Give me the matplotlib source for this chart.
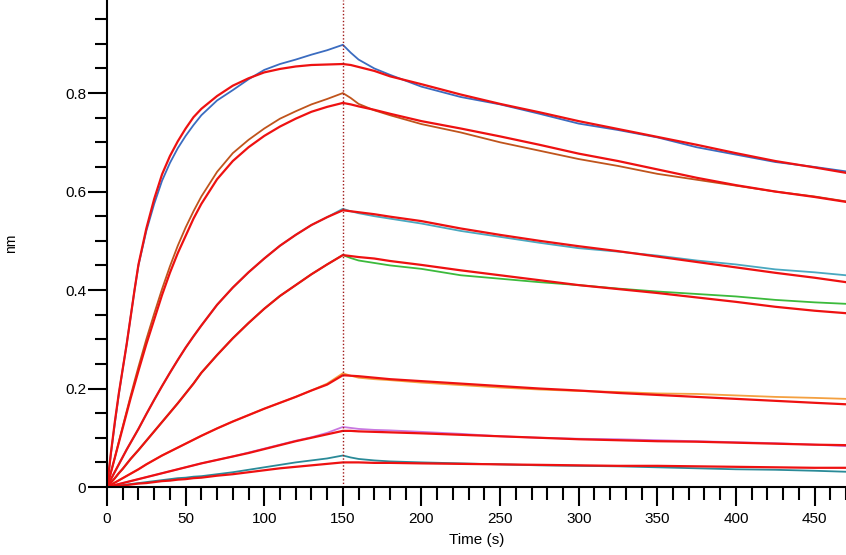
import numpy as np
import matplotlib
matplotlib.use("Agg")
import matplotlib.pyplot as plt
from matplotlib.ticker import MultipleLocator

plt.rcParams['font.family'] = ['Liberation Sans', 'DejaVu Sans']

# time grids (s)
t_assoc = [0, 2.5, 5, 7.5, 10, 12.5, 15, 17.5, 20, 25, 30, 35, 40, 45, 50, 55, 60,
           70, 80, 90, 100, 110, 120, 130, 140, 150]
t_dissoc = [150, 155, 160, 170, 180, 200, 225, 250, 275, 300, 325, 350, 375, 400, 425, 450, 470]

# measured curves (nm): association, then dissociation
blue_a = [0, 0.068, 0.13, 0.188, 0.24, 0.29, 0.345, 0.4, 0.45, 0.52, 0.575, 0.622, 0.658,
          0.688, 0.713, 0.735, 0.755, 0.785, 0.806, 0.828, 0.847, 0.859, 0.868, 0.878, 0.887, 0.898]
blue_d = [0.898, 0.882, 0.868, 0.85, 0.837, 0.813, 0.792, 0.777, 0.758, 0.738, 0.725, 0.71,
          0.69, 0.675, 0.66, 0.65, 0.641]
brown_a = [0, 0.03, 0.06, 0.092, 0.123, 0.154, 0.185, 0.215, 0.244, 0.30, 0.352, 0.402, 0.448,
           0.49, 0.527, 0.56, 0.59, 0.64, 0.678, 0.705, 0.728, 0.748, 0.763, 0.777, 0.788, 0.80]
brown_d = [0.80, 0.79, 0.778, 0.765, 0.755, 0.737, 0.72, 0.70, 0.683, 0.666, 0.652, 0.636,
           0.624, 0.612, 0.60, 0.59, 0.58]
cyan_a = [0, 0.016, 0.031, 0.046, 0.061, 0.076, 0.09, 0.104, 0.118, 0.148, 0.177, 0.205, 0.232,
          0.258, 0.283, 0.306, 0.328, 0.37, 0.405, 0.436, 0.464, 0.49, 0.512, 0.532, 0.548, 0.565]
cyan_d = [0.565, 0.56, 0.556, 0.55, 0.545, 0.535, 0.52, 0.508, 0.496, 0.485, 0.478, 0.47,
          0.46, 0.452, 0.442, 0.436, 0.430]
green_a = [0, 0.009, 0.018, 0.028, 0.037, 0.047, 0.057, 0.066, 0.075, 0.094, 0.113, 0.132, 0.151,
           0.17, 0.19, 0.21, 0.232, 0.268, 0.302, 0.333, 0.362, 0.388, 0.41, 0.432, 0.452, 0.471]
green_d = [0.471, 0.465, 0.46, 0.455, 0.45, 0.443, 0.43, 0.423, 0.416, 0.41, 0.403, 0.397,
           0.392, 0.387, 0.38, 0.375, 0.372]
orange_a = [0, 0.0045, 0.009, 0.0135, 0.018, 0.0225, 0.027, 0.0315, 0.036, 0.046, 0.055, 0.064,
            0.072, 0.08, 0.088, 0.096, 0.104, 0.119, 0.133, 0.146, 0.159, 0.171, 0.183, 0.196, 0.21, 0.231]
orange_d = [0.231, 0.226, 0.222, 0.219, 0.217, 0.212, 0.207, 0.202, 0.198, 0.195, 0.193, 0.19,
            0.189, 0.186, 0.183, 0.181, 0.179]
violet_a = [0, 0.002, 0.004, 0.006, 0.008, 0.01, 0.012, 0.014, 0.016, 0.02, 0.024, 0.028, 0.032,
            0.036, 0.04, 0.044, 0.048, 0.055, 0.062, 0.07, 0.078, 0.086, 0.094, 0.101, 0.11, 0.122]
violet_d = [0.122, 0.12, 0.118, 0.116, 0.115, 0.112, 0.108, 0.103, 0.1, 0.098, 0.097, 0.095,
            0.093, 0.091, 0.089, 0.086, 0.083]
teal_a = [0, 0.001, 0.002, 0.003, 0.004, 0.005, 0.006, 0.007, 0.008, 0.01, 0.012, 0.014, 0.016,
          0.018, 0.019, 0.021, 0.022, 0.026, 0.03, 0.035, 0.04, 0.045, 0.05, 0.054, 0.058, 0.064]
teal_d = [0.064, 0.06, 0.057, 0.054, 0.052, 0.05, 0.048, 0.046, 0.044, 0.043, 0.042, 0.04,
          0.038, 0.036, 0.035, 0.033, 0.031]

# fitted curves
fit_blue_a = [0, 0.07, 0.133, 0.19, 0.24, 0.29, 0.345, 0.4, 0.452, 0.525, 0.585, 0.635, 0.672,
              0.702, 0.728, 0.751, 0.768, 0.794, 0.815, 0.83, 0.842, 0.849, 0.854, 0.857, 0.858, 0.859]
fit_blue_d = [0.859, 0.857, 0.853, 0.845, 0.834, 0.818, 0.797, 0.778, 0.761, 0.743, 0.727, 0.711,
              0.695, 0.678, 0.662, 0.649, 0.638]
fit_brown_a = [0, 0.03, 0.06, 0.09, 0.12, 0.15, 0.18, 0.208, 0.236, 0.29, 0.34, 0.39, 0.435,
               0.475, 0.51, 0.545, 0.575, 0.625, 0.662, 0.69, 0.713, 0.732, 0.748, 0.762, 0.772, 0.78]
fit_brown_d = [0.78, 0.777, 0.773, 0.766, 0.758, 0.743, 0.728, 0.712, 0.695, 0.677, 0.662, 0.645,
               0.628, 0.613, 0.60, 0.589, 0.579]
fit_cyan_a = [0, 0.016, 0.031, 0.046, 0.061, 0.076, 0.09, 0.104, 0.118, 0.148, 0.177, 0.205, 0.232,
              0.258, 0.283, 0.306, 0.328, 0.37, 0.405, 0.436, 0.464, 0.49, 0.512, 0.532, 0.548, 0.562]
fit_cyan_d = [0.562, 0.56, 0.558, 0.554, 0.549, 0.54, 0.525, 0.512, 0.5, 0.489, 0.479, 0.468,
              0.457, 0.446, 0.435, 0.425, 0.416]
fit_green_a = [0, 0.009, 0.018, 0.028, 0.037, 0.047, 0.057, 0.066, 0.075, 0.094, 0.113, 0.132, 0.151,
               0.17, 0.19, 0.21, 0.232, 0.268, 0.302, 0.333, 0.362, 0.388, 0.41, 0.432, 0.452, 0.471]
fit_green_d = [0.471, 0.469, 0.467, 0.464, 0.459, 0.451, 0.44, 0.43, 0.42, 0.41, 0.402, 0.394,
               0.385, 0.376, 0.366, 0.358, 0.353]
fit_orange_a = [0, 0.0045, 0.009, 0.0135, 0.018, 0.0225, 0.027, 0.0315, 0.036, 0.046, 0.055, 0.064,
                0.072, 0.08, 0.088, 0.096, 0.104, 0.119, 0.133, 0.146, 0.159, 0.171, 0.183, 0.196, 0.208, 0.227]
fit_orange_d = [0.227, 0.226, 0.225, 0.222, 0.219, 0.215, 0.21, 0.205, 0.2, 0.196, 0.191, 0.187,
                0.183, 0.179, 0.175, 0.171, 0.168]
fit_violet_a = [0, 0.002, 0.004, 0.006, 0.008, 0.01, 0.012, 0.014, 0.016, 0.02, 0.024, 0.028, 0.032,
                0.036, 0.04, 0.044, 0.048, 0.055, 0.062, 0.069, 0.077, 0.085, 0.093, 0.1, 0.107, 0.114]
fit_violet_d = [0.114, 0.114, 0.113, 0.112, 0.111, 0.109, 0.106, 0.103, 0.1, 0.097, 0.095, 0.093,
                0.092, 0.09, 0.088, 0.086, 0.085]
fit_teal_a = [0, 0.001, 0.002, 0.0025, 0.003, 0.004, 0.005, 0.006, 0.007, 0.008, 0.01, 0.012, 0.013,
              0.015, 0.016, 0.018, 0.019, 0.023, 0.026, 0.03, 0.034, 0.038, 0.041, 0.044, 0.047, 0.05]
fit_teal_d = [0.05, 0.05, 0.05, 0.049, 0.049, 0.048, 0.047, 0.046, 0.045, 0.044, 0.043, 0.043,
              0.042, 0.041, 0.04, 0.039, 0.039]

curves = [
    (blue_a, blue_d, fit_blue_a, fit_blue_d, "#3b6cc0"),
    (brown_a, brown_d, fit_brown_a, fit_brown_d, "#c0541c"),
    (cyan_a, cyan_d, fit_cyan_a, fit_cyan_d, "#4aa8c0"),
    (green_a, green_d, fit_green_a, fit_green_d, "#3cba3c"),
    (orange_a, orange_d, fit_orange_a, fit_orange_d, "#f4a040"),
    (violet_a, violet_d, fit_violet_a, fit_violet_d, "#c878e0"),
    (teal_a, teal_d, fit_teal_a, fit_teal_d, "#2a8a98"),
]

fig = plt.figure(figsize=(8.46, 5.55), dpi=100)
ax = fig.add_axes([0.1265, 0.1225, 0.8735, 0.8775])

t_all = t_assoc + t_dissoc[1:]
for da, dd, fa, fd, col in curves:
    ax.plot(t_all, da + dd[1:], color=col, lw=1.3)
for da, dd, fa, fd, col in curves:
    ax.plot(t_all, fa + fd[1:], color="#ee1111", lw=1.6)

ax.axvline(150, color="#a01818", lw=1, ls=(0, (1, 1.5)))

ax.set_xlim(0, 470)
ax.set_ylim(0, 0.989)
ax.xaxis.set_major_locator(MultipleLocator(50))
ax.xaxis.set_minor_locator(MultipleLocator(10))
ax.yaxis.set_major_locator(MultipleLocator(0.2))
ax.yaxis.set_minor_locator(MultipleLocator(0.05))
ax.set_yticklabels(["0" if v == 0 else "%.1f" % v for v in ax.get_yticks()])

for s in ["top", "right"]:
    ax.spines[s].set_visible(False)
for s in ["left", "bottom"]:
    ax.spines[s].set_linewidth(1.5)
ax.tick_params(which="major", length=14, width=1.5, labelsize=11)
ax.tick_params(which="minor", length=9, width=1.5)
ax.tick_params(axis="x", which="major", pad=4)
ax.tick_params(axis="y", which="major", pad=1)

ax.set_xlabel("Time (s)", fontsize=11, labelpad=5)
ax.set_ylabel("nm", fontsize=10)
ax.yaxis.set_label_coords(-0.121, 0.5)

fig.savefig("out.png", dpi=100)
